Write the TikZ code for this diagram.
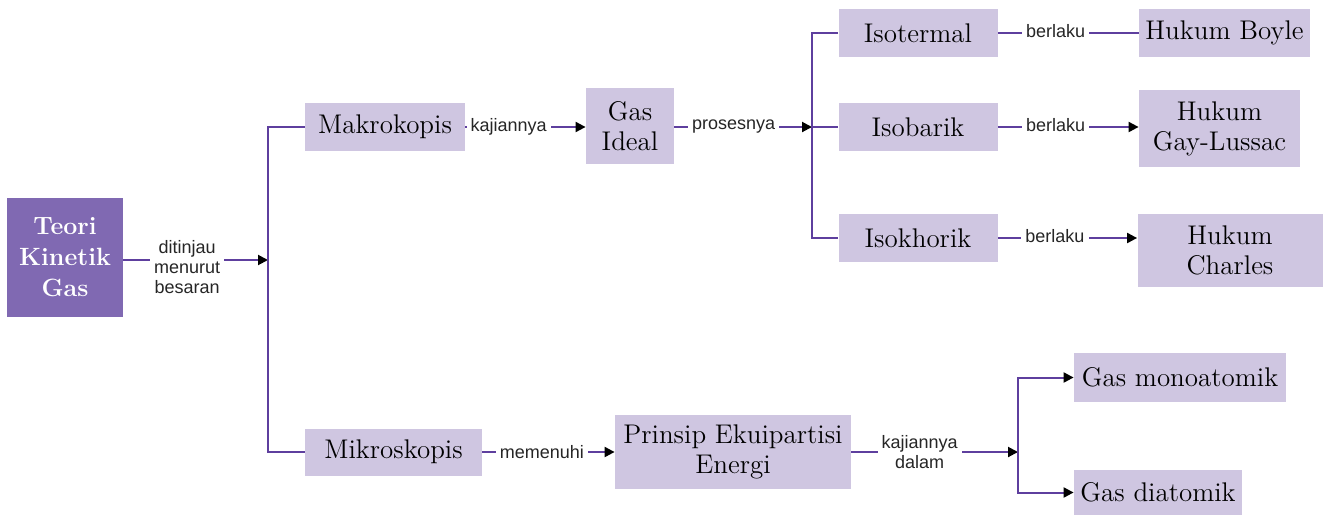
\documentclass[tikz,border=0pt]{standalone}
\usepackage{fontspec}
\usetikzlibrary{arrows.meta}
\newfontfamily\lblfont{Liberation Sans}
\definecolor{ungugaris}{RGB}{94,63,158}
\definecolor{ungumuda}{RGB}{207,198,225}
\definecolor{ungutua}{RGB}{128,105,178}
\tikzset{
	box/.style={fill=ungumuda, align=center, inner sep=0pt, font=\fontsize{13.5}{15}\selectfont},
	boxtua/.style={box, fill=ungutua, text=white, font=\bfseries\fontsize{12.5}{15.5}\selectfont},
	garis/.style={draw=ungugaris, line width=1pt},
	panah/.style={garis, -{Triangle[length=5pt,width=5pt,color=black]}},
	ket/.style={fill=white, inner sep=2pt, align=center, text=black!85, font=\lblfont\fontsize{9}{10}\selectfont}
}

\begin{document}
\begin{tikzpicture}[x=0.5pt, y=-0.5pt]
	\useasboundingbox (0,0) rectangle (1328,515);
	
	\node[boxtua, minimum width=58pt, minimum height=59.5pt] (teori) at (65,257) {Teori\\Kinetik\\Gas};
	\node[box, minimum width=80pt, minimum height=24pt] (mak) at (385,127) {Makrokopis};
	\node[box, minimum width=88.5pt, minimum height=23.5pt] (mik) at (393.5,452) {Mikroskopis};
	\node[box, minimum width=44pt, minimum height=38pt] (gas) at (630,126) {Gas\\Ideal};
	
	\node[box, minimum width=79.5pt, minimum height=24pt] (isot) at (918,33) {Isotermal};
	\node[box, minimum width=79.5pt, minimum height=24pt] (isob) at (918,127) {Isobarik};
	\node[box, minimum width=79.5pt, minimum height=24pt] (isok) at (918,238) {Isokhorik};
	
	\node[box, minimum width=85.5pt, minimum height=24pt] (boyle) at (1224.5,33) {Hukum Boyle};
	\node[box, minimum width=80.5pt, minimum height=38.5pt] (gay) at (1219.5,128.5) {Hukum\\Gay-Lussac};
	\node[box, minimum width=92.5pt, minimum height=36.5pt] (charles) at (1230,250.5) {Hukum\\Charles};
	
	\node[box, minimum width=118pt, minimum height=37pt] (prinsip) at (733,452) {Prinsip Ekuipartisi\\Energi};
	\node[box, minimum width=106pt, minimum height=24.5pt] (mono) at (1180,377.5) {Gas monoatomik};
	\node[box, minimum width=84pt, minimum height=22.5pt] (dia) at (1158,492.5) {Gas diatomik};
	
	% titik cabang
	\coordinate (b1) at (268,260);
	\coordinate (b2) at (812,127);
	\coordinate (b3) at (1018,452);
	
	\draw[panah] (teori.east |- b1) -- node[ket, pos=0.44, yshift=-3.5pt] {ditinjau\\menurut\\besaran} (b1);
	\draw[garis] (mak.west) -| (b1) |- (mik.west);
	
	\draw[panah] (mak.east) -- node[ket, pos=0.36] {kajiannya} (mak.east -| gas.west);
	\draw[panah] (gas.east |- b2) -- node[ket, pos=0.43] {prosesnya} (b2);
	\draw[garis] (isot.west) -| (b2) |- (isok.west);
	\draw[garis] (b2) -- (isob.west);
	
	\draw[garis] (isot.east) -- node[ket, pos=0.41, yshift=1pt] {berlaku} (isot.east -| boyle.west);
	\draw[panah] (isob.east) -- node[ket, pos=0.41, yshift=1pt] {berlaku} (isob.east -| gay.west);
	\draw[panah] (isok.east) -- node[ket, pos=0.41, yshift=1pt] {berlaku} (isok.east -| charles.west);
	
	\draw[panah] (mik.east) -- node[ket, pos=0.45] {memenuhi} (mik.east -| prinsip.west);
	\draw[panah] (prinsip.east) -- node[ket, pos=0.41] {kajiannya\\dalam} (b3);
	\draw[panah] (b3) |- (mono.west);
	\draw[panah] (b3) |- (dia.west);
\end{tikzpicture}
\end{document}
